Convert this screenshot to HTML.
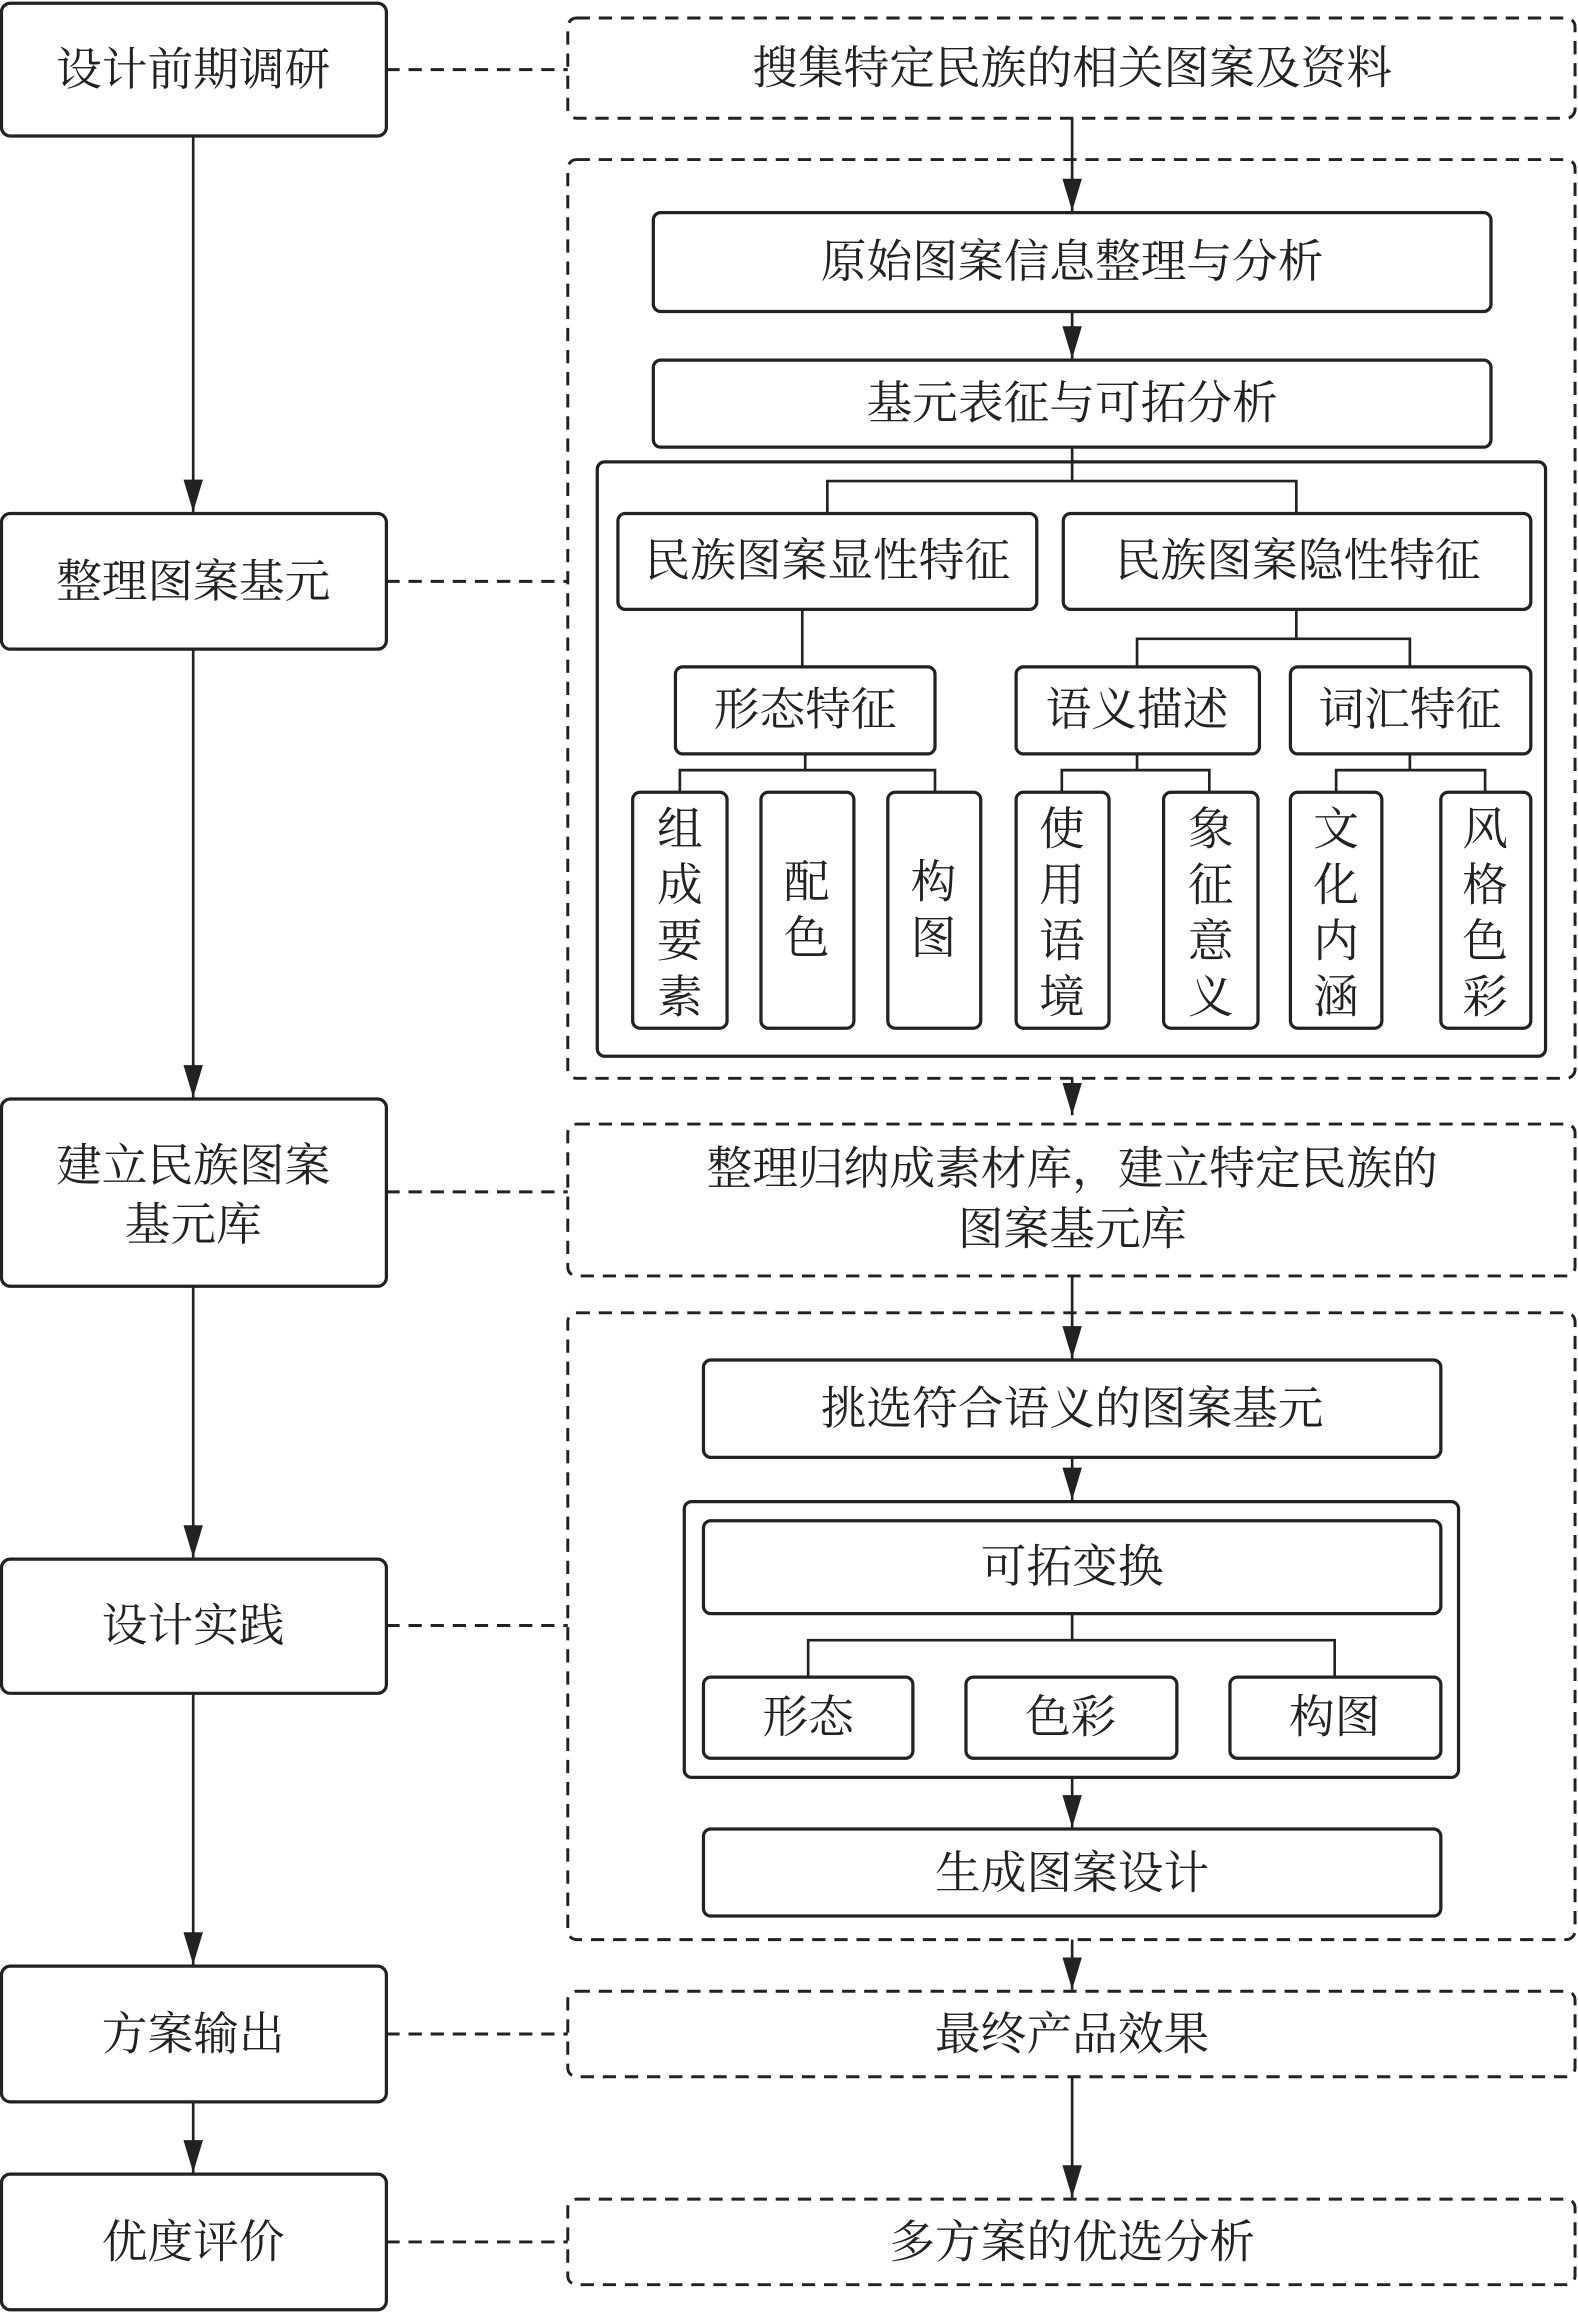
<!DOCTYPE html>
<html><head><meta charset="utf-8"><style>
html,body{margin:0;padding:0;background:#fff;}
svg{display:block;}
text{font-family:"Liberation Serif","Noto Serif CJK SC",serif;font-size:31px;fill:#222;text-anchor:middle;dominant-baseline:central;}
.b{fill:#fff;stroke:#222;stroke-width:2.2;}
.d{fill:none;stroke:#222;stroke-width:2;stroke-dasharray:9 6;}
.l{stroke:#222;stroke-width:1.8;fill:none;}
</style></head><body>
<svg width="1578" height="2313" viewBox="0 0 1070 1568" xmlns="http://www.w3.org/2000/svg">
<defs><marker id="a" viewBox="0 0 10 10" refX="10" refY="5" markerWidth="12" markerHeight="12" markerUnits="userSpaceOnUse" orient="auto"><path d="M0,0 L10,5 L0,10 z" fill="#222"/></marker>
<marker id="A" viewBox="0 0 10 10" refX="10" refY="5" markerWidth="22" markerHeight="22" markerUnits="userSpaceOnUse" orient="auto"><path d="M0,2 L10,5 L0,8 z" fill="#222"/></marker></defs>
<!-- left column -->
<rect class="b" x="1" y="2" width="261" height="90" rx="6"/><text x="131" y="47">设计前期调研</text>
<rect class="b" x="1" y="348" width="261" height="92" rx="6"/><text x="131" y="394">整理图案基元</text>
<rect class="b" x="1" y="745" width="261" height="127" rx="6"/><text x="131" y="790">建立民族图案</text><text x="131" y="830">基元库</text>
<rect class="b" x="1" y="1057" width="261" height="91" rx="6"/><text x="131" y="1102">设计实践</text>
<rect class="b" x="1" y="1333" width="261" height="92" rx="6"/><text x="131" y="1379">方案输出</text>
<rect class="b" x="1" y="1474" width="261" height="92" rx="6"/><text x="131" y="1520">优度评价</text>
<g class="l" marker-end="url(#A)">
<line x1="131" y1="92" x2="131" y2="347"/><line x1="131" y1="440" x2="131" y2="744"/>
<line x1="131" y1="872" x2="131" y2="1056"/><line x1="131" y1="1148" x2="131" y2="1332"/>
<line x1="131" y1="1425" x2="131" y2="1473"/></g>
<g class="d"><line x1="262" y1="47" x2="385" y2="47"/><line x1="262" y1="394" x2="385" y2="394"/>
<line x1="262" y1="808" x2="385" y2="808"/><line x1="262" y1="1102" x2="385" y2="1102"/>
<line x1="262" y1="1379" x2="385" y2="1379"/><line x1="262" y1="1520" x2="385" y2="1520"/></g>
<!-- right dashed -->
<rect class="d" x="385" y="12" width="683" height="68" rx="6"/><text x="727" y="46">搜集特定民族的相关图案及资料</text>
<rect class="d" x="385" y="108" width="683" height="623" rx="6"/>
<rect class="d" x="385" y="762" width="683" height="103" rx="6"/><text x="727" y="792">整理归纳成素材库，建立特定民族的</text><text x="727" y="833">图案基元库</text>
<rect class="d" x="385" y="890" width="683" height="425" rx="6"/>
<rect class="d" x="385" y="1350" width="683" height="58" rx="6"/><text x="727" y="1379">最终产品效果</text>
<rect class="d" x="385" y="1491" width="683" height="58" rx="6"/><text x="727" y="1520">多方案的优选分析</text>
<g class="l" marker-end="url(#A)">
<line x1="727" y1="80" x2="727" y2="143"/><line x1="727" y1="211" x2="727" y2="243"/>
<line x1="727" y1="731" x2="727" y2="756"/><line x1="727" y1="865" x2="727" y2="921"/>
<line x1="727" y1="988" x2="727" y2="1017"/><line x1="727" y1="1205" x2="727" y2="1239"/>
<line x1="727" y1="1315" x2="727" y2="1349"/><line x1="727" y1="1408" x2="727" y2="1490"/></g>
<!-- upper inner -->
<rect class="b" x="443" y="144" width="568" height="67" rx="5"/><text x="727" y="177">原始图案信息整理与分析</text>
<rect class="b" x="443" y="244" width="568" height="59" rx="5"/><text x="727" y="273">基元表征与可拓分析</text>
<rect class="b" x="405" y="313" width="643" height="403" rx="5"/>
<path class="l" d="M727,303V326M561,348V326H879V348"/>
<rect class="b" x="419" y="348" width="284" height="65" rx="5"/><text x="561" y="380">民族图案显性特征</text>
<rect class="b" x="721" y="348" width="317" height="65" rx="5"/><text x="880" y="380">民族图案隐性特征</text>
<path class="l" d="M544,413V452M879,413V433M771,452V433H956V452"/>
<rect class="b" x="458" y="452" width="176" height="59" rx="5"/><text x="546" y="481">形态特征</text>
<rect class="b" x="689" y="452" width="165" height="59" rx="5"/><text x="771" y="481">语义描述</text>
<rect class="b" x="875" y="452" width="163" height="59" rx="5"/><text x="956" y="481">词汇特征</text>
<path class="l" d="M546,511V522M461,537V522H634V537M771,511V522M720,537V522H820V537M956,511V522M906,537V522H1007V537"/>
<g>
<rect class="b" x="429" y="537" width="64" height="160" rx="5"/><text x="461" y="562">组</text><text x="461" y="600">成</text><text x="461" y="638">要</text><text x="461" y="676">素</text>
<rect class="b" x="516" y="537" width="63" height="160" rx="5"/><text x="547" y="598">配</text><text x="547" y="636">色</text>
<rect class="b" x="602" y="537" width="63" height="160" rx="5"/><text x="633" y="598">构</text><text x="633" y="636">图</text>
<rect class="b" x="689" y="537" width="63" height="160" rx="5"/><text x="720" y="562">使</text><text x="720" y="600">用</text><text x="720" y="638">语</text><text x="720" y="676">境</text>
<rect class="b" x="789" y="537" width="64" height="160" rx="5"/><text x="821" y="562">象</text><text x="821" y="600">征</text><text x="821" y="638">意</text><text x="821" y="676">义</text>
<rect class="b" x="875" y="537" width="62" height="160" rx="5"/><text x="906" y="562">文</text><text x="906" y="600">化</text><text x="906" y="638">内</text><text x="906" y="676">涵</text>
<rect class="b" x="977" y="537" width="61" height="160" rx="5"/><text x="1007" y="562">风</text><text x="1007" y="600">格</text><text x="1007" y="638">色</text><text x="1007" y="676">彩</text>
</g>
<!-- lower inner -->
<rect class="b" x="477" y="922" width="500" height="66" rx="5"/><text x="727" y="955">挑选符合语义的图案基元</text>
<rect class="b" x="464" y="1018" width="525" height="187" rx="5"/>
<rect class="b" x="477" y="1031" width="500" height="63" rx="5"/><text x="727" y="1062">可拓变换</text>
<path class="l" d="M727,1094V1112M548,1137V1112H905V1137"/>
<rect class="b" x="477" y="1137" width="142" height="55" rx="5"/><text x="548" y="1164">形态</text>
<rect class="b" x="655" y="1137" width="143" height="55" rx="5"/><text x="726" y="1164">色彩</text>
<rect class="b" x="834" y="1137" width="143" height="55" rx="5"/><text x="905" y="1164">构图</text>
<rect class="b" x="477" y="1240" width="500" height="59" rx="5"/><text x="727" y="1270">生成图案设计</text>
</svg>
</body></html>
